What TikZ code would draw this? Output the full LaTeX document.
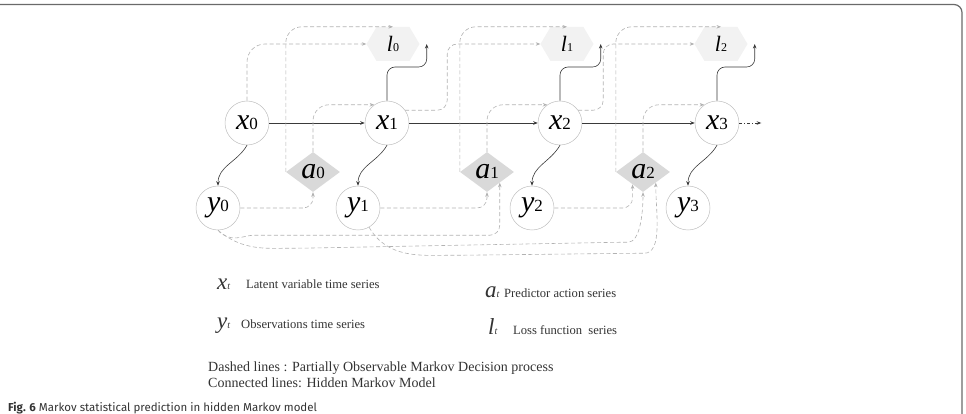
\documentclass[tikz,border=0pt]{standalone}
\usepackage{fontspec}
\setmainfont{Liberation Serif}
\newfontfamily\figcapfont{Fira Sans}
\usetikzlibrary{arrows.meta,calc,shapes.geometric}
\definecolor{frameGray}{HTML}{6A6A6A}
\definecolor{edgeGray}{HTML}{B2B2B2}
\definecolor{hmmGray}{HTML}{3A3A3A}
\tikzset{
  markov state/.style={
    circle, draw=black!25, fill=white, line width=0.5pt,
    minimum size=44pt, inner sep=0pt
  },
  markov action/.style={
    diamond, fill=black!15, aspect=1.35,
    minimum width=54pt, minimum height=40pt, inner sep=0pt
  },
  markov loss/.style={
    rectangle, minimum width=53pt, minimum height=34pt, inner sep=0pt,
    path picture={
      \fill[black!5] (path picture bounding box.west)
        -- ([xshift=10pt]path picture bounding box.north west)
        -- ([xshift=-10pt]path picture bounding box.north east)
        -- (path picture bounding box.east)
        -- ([xshift=-10pt]path picture bounding box.south east)
        -- ([xshift=10pt]path picture bounding box.south west) -- cycle;
    }
  },
  markov hmm edge/.style={
    draw=hmmGray, line width=0.6pt,
    -{Stealth[length=4.5pt,width=3.5pt]}
  },
  markov pomdp edge/.style={
    draw=edgeGray, line width=0.6pt, dash pattern=on 4pt off 2.5pt,
    rounded corners=10pt, -{Stealth[length=4.5pt,width=3.5pt]}
  },
  legend text/.style={
    anchor=base west, inner sep=0pt, text=black!80,
    font=\fontsize{12.6}{14}\selectfont
  }
}
\newcommand{\markovVar}[2]{%
  {\fontsize{30}{30}\selectfont\itshape #1}{\fontsize{17}{17}\selectfont #2}}
\newcommand{\markovLoss}[1]{%
  {\fontsize{22}{22}\selectfont\itshape l}{\fontsize{12}{12}\selectfont #1}}
\newcommand{\markovLegendVar}[1]{%
  {\fontsize{23}{23}\selectfont\itshape #1}{\fontsize{10}{10}\selectfont\itshape t}}

\begin{document}
\begin{tikzpicture}[x=1pt,y=-1pt]
  \useasboundingbox (0,0) rectangle (966,414);
  \clip (0,0) rectangle (966,414);

  % page frame of the figure
  \draw[frameGray, line width=1.2pt, rounded corners=8pt]
    (-20,4.5) -- (962,4.5) -- (962,440);

  % hidden states
  \node[markov state] (x0) at (247,123) {\markovVar{x}{0}};
  \node[markov state] (x1) at (387,123) {\markovVar{x}{1}};
  \node[markov state] (x2) at (560,123) {\markovVar{x}{2}};
  \node[markov state] (x3) at (717,123) {\markovVar{x}{3}};

  % observations
  \node[markov state] (y0) at (218,208) {\markovVar{y}{0}};
  \node[markov state] (y1) at (358,208) {\markovVar{y}{1}};
  \node[markov state] (y2) at (532,208) {\markovVar{y}{2}};
  \node[markov state] (y3) at (688,208) {\markovVar{y}{3}};

  % actions and losses
  \node[markov action] (a0) at (313,172) {\markovVar{a}{0}};
  \node[markov action] (a1) at (487,172) {\markovVar{a}{1}};
  \node[markov action] (a2) at (643,172) {\markovVar{a}{2}};

  \node[markov loss] (l0) at (393,44) {\markovLoss{0}};
  \node[markov loss] (l1) at (567,44) {\markovLoss{1}};
  \node[markov loss] (l2) at (721,44) {\markovLoss{2}};

  \coordinate (l0 tip) at ($(l0.east)+(7,0)$);
  \coordinate (l1 tip) at ($(l1.east)+(7,0)$);
  \coordinate (l2 tip) at ($(l2.east)+(7,0)$);
  \coordinate (x3 out) at ($(x3.east)+(22,0)$);

  % hidden Markov model
  \draw[markov hmm edge] (x0) -- (x1);
  \draw[markov hmm edge] (x1) -- (x2);
  \draw[markov hmm edge] (x2) -- (x3);
  \draw[markov hmm edge, dash pattern=on 3pt off 2pt on 1pt off 2pt]
    (x3.east) -- (x3 out);

  \draw[markov hmm edge] (x0.south) to[out=-120,in=90] (y0.north);
  \draw[markov hmm edge] (x1.south) to[out=-120,in=90] (y1.north);
  \draw[markov hmm edge] (x2.south) to[out=-120,in=90] (y2.north);
  \draw[markov hmm edge] (x3.south) to[out=-120,in=90] (y3.north);

  \draw[markov hmm edge, rounded corners=8pt]
    (x1.north) |- ($(l0 tip)+(0,23)$) -- (l0 tip);
  \draw[markov hmm edge, rounded corners=8pt]
    (x2.north) |- ($(l1 tip)+(0,23)$) -- (l1 tip);
  \draw[markov hmm edge, rounded corners=8pt]
    (x3.north) |- ($(l2 tip)+(0,23)$) -- (l2 tip);

  % partially observable Markov decision process
  \draw[markov pomdp edge, rounded corners=18pt] (x0.north) |- (l0.west);
  \draw[markov pomdp edge] (x1.35) -- ++(42,0) |- (l1.west);
  \draw[markov pomdp edge] (x2.35) -- ++(25,0) |- (l2.west);

  \draw[markov pomdp edge, rounded corners=16pt] (a0.west) |- (l0.north);
  \draw[markov pomdp edge, rounded corners=16pt] (a1.west) |- (l1.north);
  \draw[markov pomdp edge, rounded corners=16pt] (a2.west) |- (l2.north);

  \draw[markov pomdp edge, rounded corners=16pt] (a0.north) |- (x1.125);
  \draw[markov pomdp edge, rounded corners=16pt] (a1.north) |- (x2.125);
  \draw[markov pomdp edge, rounded corners=16pt] (a2.north) |- (x3.125);

  \draw[markov pomdp edge] (y0.east) -| (a0.south);
  \draw[markov pomdp edge] (y1.east) -| (a1.south);
  \draw[markov pomdp edge] (y2.east) -| (a2.-130);

  \draw[markov pomdp edge]
    (y0.south) to[out=-50,in=180] ++(45,5) -| (a1.-40);
  \draw[markov pomdp edge]
    (y0.south) to[out=-40,in=180] ++(80,18) -- ++(320,-6)
    to[out=0,in=-90] (a2.south);
  \draw[markov pomdp edge]
    (y1.-60) to[out=-60,in=180] ++(90,28) -- ++(175,-2)
    to[out=0,in=-90] (a2.-40);

  % legend
  \node[legend text] (leg x sym) at (217,289) {\markovLegendVar{x}};
  \node[legend text] (leg x) at (246,288) {Latent variable time series};
  \node[legend text] (leg y sym) at (217,328) {\markovLegendVar{y}};
  \node[legend text] (leg y) at (241,328) {Observations time series};
  \node[legend text] (leg a sym) at (485,297) {\markovLegendVar{a}};
  \node[legend text] (leg a) at (504,297) {Predictor action series};
  \node[legend text] (leg l sym) at (488,334) {\markovLegendVar{l}};
  \node[legend text] (leg l) at (513,334) {Loss function\ \ series};

  \node[legend text, font=\fontsize{14}{16}\selectfont] (leg dashed)
    at (208,371) {Dashed lines : Partially Observable Markov Decision process};
  \node[legend text, font=\fontsize{14}{16}\selectfont] (leg solid)
    at (208,387) {Connected lines: Hidden Markov Model};

  \node[anchor=base west, inner sep=0pt, text=black!80,
        font=\figcapfont\fontsize{11.5}{13}\selectfont] (fig caption)
    at (8,411) {\textbf{Fig. 6} Markov statistical prediction in hidden Markov model};
\end{tikzpicture}
\end{document}
